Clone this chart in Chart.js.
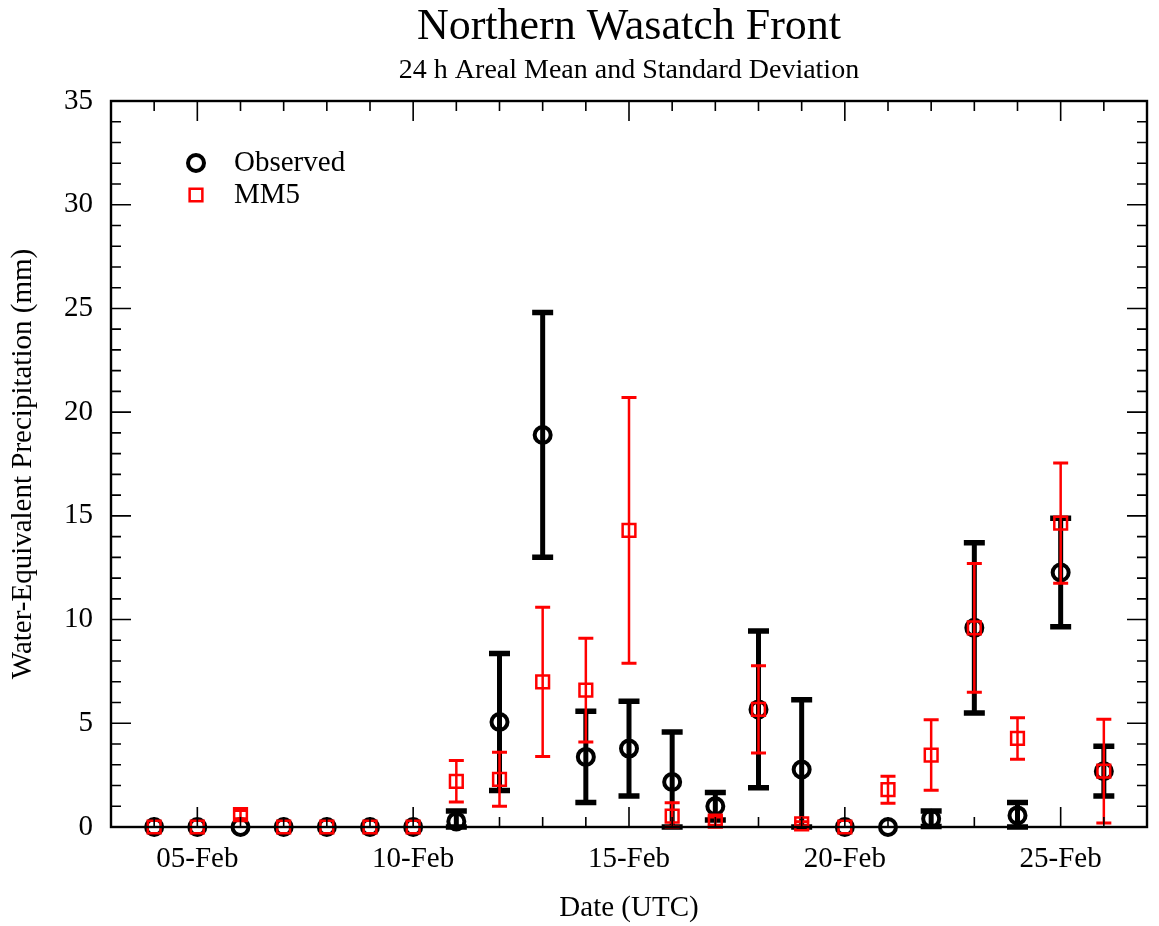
<!DOCTYPE html>
<html>
<head>
<meta charset="utf-8">
<title>Northern Wasatch Front</title>
<script src="https://cdn.jsdelivr.net/npm/chart.js@4.4.1/dist/chart.umd.min.js"></script>
<style>
  html, body { margin: 0; padding: 0; background: #fff; }
  #wrap { width: 1159px; height: 926px; }
</style>
</head>
<body>
<div id="wrap"><canvas id="precipChart" width="1159" height="926"></canvas></div>
<script>
// day of February (UTC) for each 24 h period
const days = [4, 5, 6, 7, 8, 9, 10, 11, 12, 13, 14, 15, 16, 17, 18, 19, 20, 21, 22, 23, 24, 25, 26];

// areal mean / standard deviation (mm)
const obsMean = [0, 0, 0, 0, 0, 0, 0, 0.27, 5.06, 18.9, 3.38, 3.78, 2.17, 1.0, 5.67, 2.77, 0, 0, 0.4, 9.6, 0.56, 12.27, 2.69];
const obsStd  = [0, 0, 0, 0, 0, 0, 0, 0.5, 3.3, 5.9, 2.2, 2.28, 2.41, 0.66, 3.78, 3.37, 0, 0, 0.37, 4.1, 0.62, 2.62, 1.2];
const mm5Mean = [0, 0, 0.6, 0, 0, 0, 0, 2.2, 2.3, 7.0, 6.6, 14.3, 0.52, 0.28, 5.67, 0.15, 0, 1.8, 3.47, 9.6, 4.27, 14.65, 2.69];
const mm5Std  = [0, 0, 0.2, 0, 0, 0, 0, 1.0, 1.3, 3.6, 2.5, 6.4, 0.65, 0.2, 2.1, 0.1, 0, 0.65, 1.7, 3.1, 1.0, 2.9, 2.5];

const xTickValues = [5, 10, 15, 20, 25];
const xTickLabels = ['05-Feb', '10-Feb', '15-Feb', '20-Feb', '25-Feb'];
const yTickValues = [0, 5, 10, 15, 20, 25, 30, 35];

const FONT = 'Liberation Serif';

// mean +/- one std, lower end held at zero
const errorBars = {
  id: 'errorBars',
  beforeDatasetDraw(chart, args) {
    const ds = chart.data.datasets[args.index];
    if (!ds.errStd) return;
    const { ctx, scales: { x, y } } = chart;
    ctx.save();
    ctx.strokeStyle = ds.borderColor;
    ds.data.forEach((p, i) => {
      const s = ds.errStd[i];
      if (!s) return;
      const px = x.getPixelForValue(p.x);
      const top = y.getPixelForValue(p.y + s);
      const bot = y.getPixelForValue(Math.max(0, p.y - s));
      ctx.lineWidth = ds.errWidth;
      ctx.beginPath();
      ctx.moveTo(px, top);
      ctx.lineTo(px, bot);
      ctx.stroke();
      ctx.lineWidth = ds.capThick;
      ctx.beginPath();
      ctx.moveTo(px - ds.capHalf, top);
      ctx.lineTo(px + ds.capHalf, top);
      ctx.moveTo(px - ds.capHalf, bot);
      ctx.lineTo(px + ds.capHalf, bot);
      ctx.stroke();
    });
    ctx.restore();
  }
};

// box frame with inward ticks on all four sides, titles and legend
const frameAndText = {
  id: 'frameAndText',
  afterDatasetsDraw(chart) {
    const { ctx, chartArea: a, scales: { x, y } } = chart;
    ctx.save();
    ctx.strokeStyle = '#000';
    ctx.lineWidth = 1.6;
    ctx.beginPath();
    for (let d = Math.ceil(x.min) + 1; d < x.max; d++) {
      const px = x.getPixelForValue(d);
      const len = xTickValues.includes(d) ? 20 : 10;
      ctx.moveTo(px, a.bottom);
      ctx.lineTo(px, a.bottom - len);
      ctx.moveTo(px, a.top);
      ctx.lineTo(px, a.top + len);
    }
    for (let v = y.min + 1; v < y.max; v++) {
      const py = y.getPixelForValue(v);
      const len = yTickValues.includes(v) ? 20 : 10;
      ctx.moveTo(a.left, py);
      ctx.lineTo(a.left + len, py);
      ctx.moveTo(a.right, py);
      ctx.lineTo(a.right - len, py);
    }
    ctx.stroke();
    ctx.lineWidth = 2.4;
    ctx.strokeRect(a.left, a.top, a.right - a.left, a.bottom - a.top);

    // titles
    const cx = (a.left + a.right) / 2;
    ctx.fillStyle = '#000';
    ctx.textAlign = 'center';
    ctx.textBaseline = 'alphabetic';
    ctx.font = `44px "${FONT}"`;
    ctx.fillText('Northern Wasatch Front', cx, 39);
    ctx.font = `28px "${FONT}"`;
    ctx.fillText('24 h Areal Mean and Standard Deviation', cx, 78);

    // legend
    const order = [1, 0];
    ctx.font = `29px "${FONT}"`;
    ctx.textAlign = 'left';
    ctx.textBaseline = 'middle';
    order.forEach((idx, row) => {
      const ds = chart.data.datasets[idx];
      const ly = a.top + 62 + row * 32;
      const lx = a.left + 85;
      ctx.strokeStyle = ds.borderColor;
      ctx.lineWidth = ds.pointBorderWidth;
      ctx.beginPath();
      if (ds.pointStyle === 'circle') {
        ctx.arc(lx, ly, ds.pointRadius, 0, Math.PI * 2);
      } else {
        const h = ds.pointRadius * Math.SQRT1_2;
        ctx.rect(lx - h, ly - h, 2 * h, 2 * h);
      }
      ctx.stroke();
      ctx.fillStyle = '#000';
      ctx.fillText(ds.label, a.left + 123, ly);
    });
    ctx.restore();
  }
};

const ctx = document.getElementById('precipChart').getContext('2d');

new Chart(ctx, {
  type: 'scatter',
  data: {
    datasets: [
      {
        label: 'MM5',
        data: days.map((d, i) => ({ x: d, y: mm5Mean[i] })),
        errStd: mm5Std,
        borderColor: '#ff0000',
        backgroundColor: 'transparent',
        pointStyle: 'rect',
        pointRadius: 9,
        pointBorderWidth: 2.5,
        errWidth: 2.5,
        capThick: 3,
        capHalf: 7.5,
        clip: false,
        order: 1
      },
      {
        label: 'Observed',
        data: days.map((d, i) => ({ x: d, y: obsMean[i] })),
        errStd: obsStd,
        borderColor: '#000000',
        backgroundColor: 'transparent',
        pointStyle: 'circle',
        pointRadius: 8,
        pointBorderWidth: 4,
        errWidth: 5,
        capThick: 5.5,
        capHalf: 10.5,
        clip: false,
        order: 2
      }
    ]
  },
  options: {
    responsive: false,
    animation: false,
    events: [],
    layout: { padding: { top: 101, right: 7, left: 0, bottom: 0 } },
    plugins: {
      legend: { display: false },
      tooltip: { enabled: false },
      title: { display: false }
    },
    scales: {
      x: {
        type: 'linear',
        min: 3,
        max: 27,
        afterFit: s => {
          s.height = 99;
          s.paddingLeft = 0;
          s.paddingRight = 0;
        },
        afterBuildTicks: s => { s.ticks = xTickValues.map(v => ({ value: v })); },
        grid: { display: false },
        border: { display: false },
        ticks: {
          autoSkip: false,
          maxRotation: 0,
          padding: 7,
          color: '#000',
          font: { family: FONT, size: 29 },
          callback: v => xTickLabels[xTickValues.indexOf(v)]
        },
        title: {
          display: true,
          text: 'Date (UTC)',
          color: '#000',
          font: { family: FONT, size: 29 },
          padding: { top: 0, bottom: 0 }
        }
      },
      y: {
        min: 0,
        max: 35,
        afterFit: s => {
          s.width = 111;
          s.paddingTop = 0;
          s.paddingBottom = 0;
        },
        afterBuildTicks: s => { s.ticks = yTickValues.map(v => ({ value: v })); },
        grid: { display: false },
        border: { display: false },
        ticks: {
          padding: 10,
          color: '#000',
          font: { family: FONT, size: 29 }
        },
        title: {
          display: true,
          text: 'Water-Equivalent Precipitation (mm)',
          color: '#000',
          font: { family: FONT, size: 29 },
          padding: { top: 6, bottom: 0 }
        }
      }
    }
  },
  plugins: [errorBars, frameAndText]
});
</script>
</body>
</html>
